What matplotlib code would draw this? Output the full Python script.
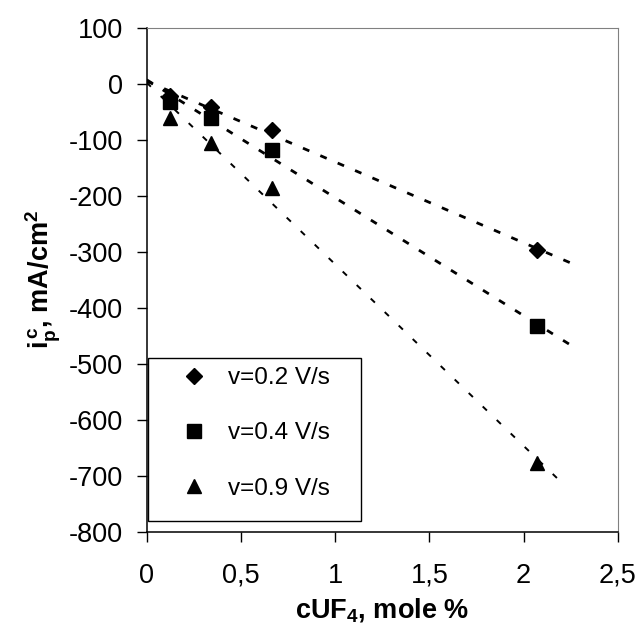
import numpy as np
import matplotlib
matplotlib.use("Agg")
import matplotlib.pyplot as plt

plt.rcParams['font.family'] = ['Liberation Sans', 'DejaVu Sans']
plt.rcParams['mathtext.fontset'] = 'custom'
plt.rcParams['mathtext.rm'] = 'Liberation Sans'
plt.rcParams['mathtext.bf'] = 'Liberation Sans:bold'
plt.rcParams['mathtext.it'] = 'Liberation Sans:italic'
plt.rcParams['axes.unicode_minus'] = False

# data
conc = [0.125, 0.34, 0.665, 2.07]          # cUF4, mole %
ip_02 = [-23, -42, -82, -297]              # v=0.2 V/s
ip_04 = [-33, -61, -119, -433]             # v=0.4 V/s
ip_09 = [-61, -106, -186, -677]            # v=0.9 V/s
labels = ["v=0.2 V/s", "v=0.4 V/s", "v=0.9 V/s"]
trend_end = [2.27, 2.27, 2.225]            # trendline forecast end
xtick_vals = [0, 0.5, 1, 1.5, 2, 2.5]
xtick_labels = ["0", "0,5", "1", "1,5", "2", "2,5"]
ytick_vals = list(range(-800, 101, 100))

fig = plt.figure(figsize=(6.42, 6.26), dpi=100)
ax = fig.add_axes([0.2285, 0.150, 0.734, 0.806])

markers = ['D', 's', '^']
msizes = [7.8, 9.5, 10]
line_w = [2.0, 2.0, 1.4]
dash = [(2.5, 4.3), (2.5, 4.3), (3, 7)]

series = [ip_02, ip_04, ip_09]
for y, lab, m, ms, lw, ds, xe in zip(series, labels, markers, msizes, line_w, dash, trend_end):
    k, b = np.polyfit(conc, y, 1)
    xt = np.array([0, xe])
    ax.plot(xt, k * xt + b, color='black', lw=lw, linestyle=(0, ds), zorder=2)
    ax.plot(conc, y, linestyle='none', marker=m, ms=ms, color='black', label=lab, zorder=3)

ax.set_xlim(0, 2.5)
ax.set_ylim(-800, 100)
ax.set_xticks(xtick_vals)
ax.set_xticklabels(xtick_labels)
ax.set_yticks(ytick_vals)
ax.tick_params(axis='both', direction='out', length=7, width=1, labelsize=19.5)
ax.tick_params(axis='y', pad=10)
ax.tick_params(axis='x', pad=15)

for s in ['top', 'right']:
    ax.spines[s].set_color('#808080')
for s in ['left', 'bottom']:
    ax.spines[s].set_color('black')
    ax.spines[s].set_linewidth(1.1)

ax.set_xlabel(r'cUF$_\mathbf{4}$, mole %', fontsize=19.5, fontweight='bold', labelpad=5.5)
ax.set_ylabel(r'$\mathbf{i_p^{\,c}}$, mA/cm$^\mathbf{2}$', fontsize=19.5, fontweight='bold', labelpad=4)

# legend box (frame drawn separately, Excel-style with extra room below)
box = plt.Rectangle((0.003, 0.022), 0.452, 0.323, transform=ax.transAxes,
                    fill=True, fc='white', ec='black', lw=1.0, zorder=4)
ax.add_patch(box)
leg = ax.legend(loc='upper left', bbox_to_anchor=(0.003, 0.345),
                fontsize=17.5, frameon=False, borderpad=0.37, labelspacing=1.37,
                handlelength=3.0, handletextpad=-0.1, borderaxespad=0)
leg.set_zorder(5)

fig.savefig("out.png", dpi=100)
